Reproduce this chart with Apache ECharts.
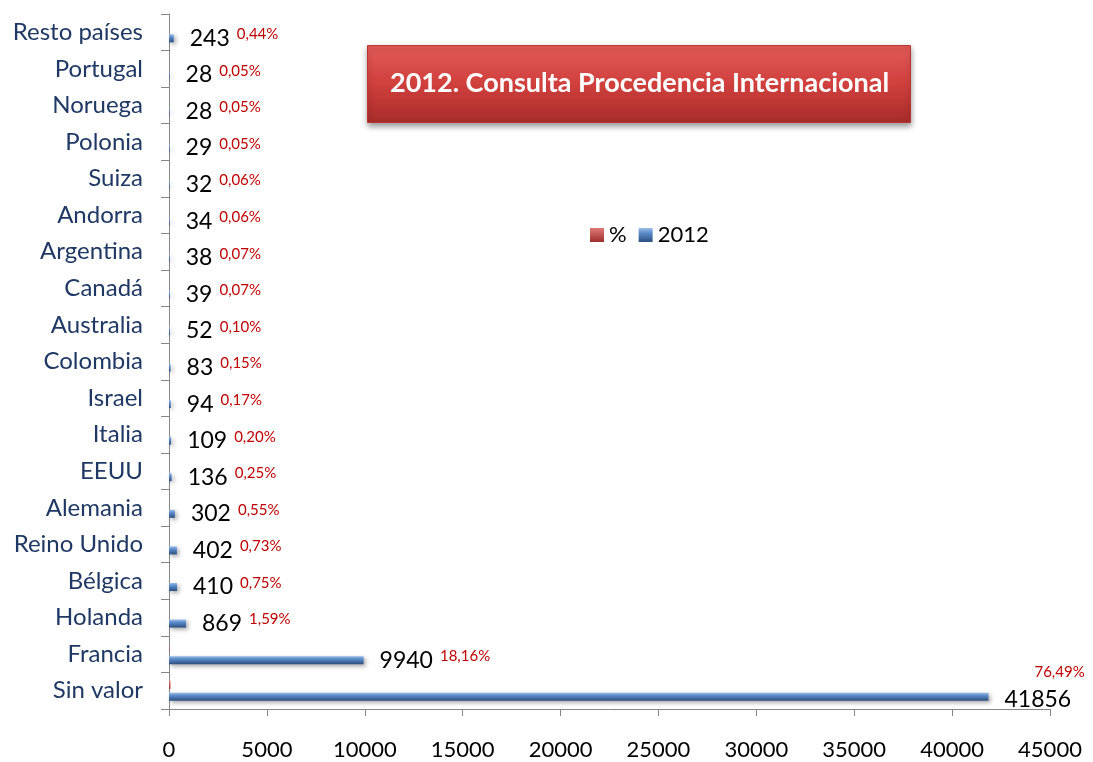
<!DOCTYPE html>
<html>
<head>
<meta charset="utf-8">
<script src="https://cdn.jsdelivr.net/npm/echarts@6/dist/echarts.min.js"></script>
<style>
  html, body { margin: 0; padding: 0; background: #fff; }
  #main { width: 1093px; height: 762px; }
</style>
</head>
<body>
<div id="main"></div>
<script>
// paises, de abajo hacia arriba
const paises = ['Sin valor', 'Francia', 'Holanda', 'Bélgica', 'Reino Unido', 'Alemania', 'EEUU', 'Italia', 'Israel',
  'Colombia', 'Australia', 'Canadá', 'Argentina', 'Andorra', 'Suiza', 'Polonia', 'Noruega', 'Portugal', 'Resto países']
const consultas2012 = [41856, 9940, 869, 410, 402, 302, 136, 109, 94, 83, 52, 39, 38, 34, 32, 29, 28, 28, 243]
const porcentaje = [76.49, 18.16, 1.59, 0.75, 0.73, 0.55, 0.25, 0.20, 0.17, 0.15, 0.10, 0.07, 0.07, 0.06, 0.06, 0.05, 0.05, 0.05, 0.44]
const ticksX = [0, 5000, 10000, 15000, 20000, 25000, 30000, 35000, 40000, 45000]

const fuente = 'Lato, "Open Sans", sans-serif'
const pct = (v) => v.toFixed(2).replace('.', ',') + '%'

const chart = echarts.init(document.getElementById('main'))

const azul = new echarts.graphic.LinearGradient(0, 0, 0, 1, [
  { offset: 0, color: '#9cbde6' },
  { offset: 0.35, color: '#5b8ccc' },
  { offset: 1, color: '#2c4f7f' }
])
const rojo = new echarts.graphic.LinearGradient(0, 0, 0, 1, [
  { offset: 0, color: '#e07a77' },
  { offset: 1, color: '#9c2f2c' }
])

const datos2012 = consultas2012.map((v, i) => {
  const item = { value: v }
  if (i === 0) {
    // el porcentaje mayor va encima del numero
    item.label = {
      formatter: '{p|' + pct(porcentaje[i]) + '}\n{v|' + v + '}',
      offset: [0, -11],
      rich: {
        v: { fontSize: 23, color: '#000', fontFamily: fuente, lineHeight: 27 },
        p: { fontSize: 15, color: '#c00000', fontFamily: fuente, padding: [0, 0, 0, 30], lineHeight: 27 }
      }
    }
  }
  return item
})

chart.setOption({
  animation: false,
  textStyle: { fontFamily: fuente },
  title: {
    text: '2012. Consulta Procedencia Internacional',
    left: 367,
    top: 45,
    padding: [25, 22, 26, 23],
    backgroundColor: new echarts.graphic.LinearGradient(0, 0, 0, 1, [
      { offset: 0, color: '#e35b58' },
      { offset: 0.5, color: '#d0403d' },
      { offset: 1, color: '#a82c2a' }
    ]),
    borderColor: '#b83532',
    borderWidth: 1,
    shadowBlur: 6,
    shadowColor: 'rgba(0,0,0,0.4)',
    shadowOffsetY: 3,
    textStyle: { color: '#fff', fontSize: 27, fontWeight: 'bold', fontFamily: fuente }
  },
  legend: {
    left: 585,
    top: 219,
    itemWidth: 14,
    itemHeight: 14,
    itemGap: 12,
    icon: 'rect',
    textStyle: { fontSize: 22, color: '#000', fontFamily: fuente },
    data: ['%', '2012']
  },
  grid: {
    left: 169,
    right: 43,
    top: 14,
    bottom: 53
  },
  xAxis: {
    type: 'value',
    min: 0,
    max: 45000,
    interval: 5000,
    splitLine: { show: false },
    axisLine: { show: true, lineStyle: { color: '#868686' } },
    axisTick: { show: true, length: 7, inside: false, lineStyle: { color: '#868686' } },
    axisLabel: {
      margin: 30,
      fontSize: 22,
      color: '#000',
      fontFamily: fuente,
      formatter: (v) => ticksX.includes(v) ? String(v) : ''
    }
  },
  yAxis: {
    type: 'category',
    data: paises,
    axisLine: { show: true, lineStyle: { color: '#868686' } },
    axisTick: { show: true, length: 8, lineStyle: { color: '#868686' } },
    axisLabel: { margin: 26, fontSize: 24, color: '#1f3864', fontFamily: fuente }
  },
  series: [
    {
      name: '%',
      type: 'bar',
      data: porcentaje,
      barWidth: 8,
      barGap: '50%',
      itemStyle: { color: rojo }
    },
    {
      name: '2012',
      type: 'bar',
      data: datos2012,
      barWidth: 8,
      barGap: '50%',
      itemStyle: {
        color: azul,
        shadowBlur: 4,
        shadowColor: 'rgba(0,0,0,0.35)',
        shadowOffsetX: 2,
        shadowOffsetY: 2
      },
      label: {
        show: true,
        position: 'right',
        distance: 16,
        formatter: (p) => '{v|' + p.value + '}{p|' + pct(porcentaje[p.dataIndex]) + '}',
        rich: {
          v: { fontSize: 23, color: '#000', fontFamily: fuente },
          p: { fontSize: 15, color: '#c00000', fontFamily: fuente, padding: [0, 0, 8, 7] }
        }
      }
    }
  ]
})
</script>
</body>
</html>
